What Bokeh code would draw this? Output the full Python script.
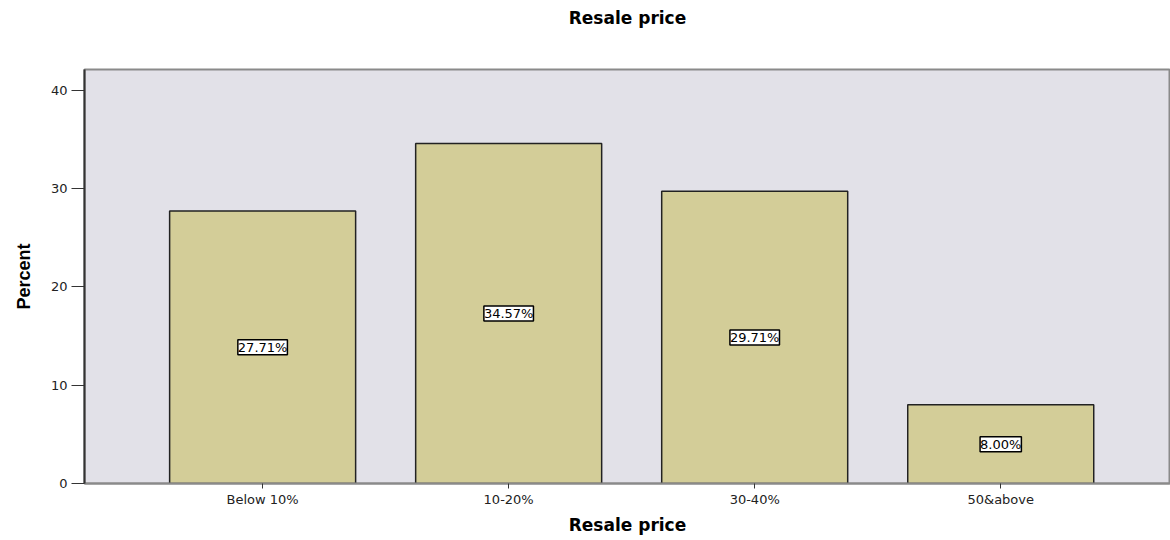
from bokeh.plotting import figure
from bokeh.models import ColumnDataSource, LabelSet, LinearAxis, Range1d, FixedTicker
from bokeh.core.properties import value
from bokeh.embed import file_html
from bokeh.resources import INLINE

title_text = "Resale price"
x_label = "Resale price"
y_label = "Percent"
categories = ["Below 10%", "10-20%", "30-40%", "50&above"]
percents = [27.71, 34.57, 29.71, 8.00]
y_ticks = [0, 10, 20, 30, 40]

xs = list(range(len(categories)))
labels = ["%.2f%%" % v for v in percents]
src = ColumnDataSource(dict(x=xs, top=percents, mid=[v / 2 for v in percents], lab=labels))

p = figure(width=1170, height=540, output_backend="svg", toolbar_location=None,
           x_range=Range1d(-0.724, 3.69), y_range=Range1d(0, 42.1),
           min_border_left=84, min_border_right=0, min_border_top=69, min_border_bottom=57)

p.background_fill_color = "#E2E1E8"
p.border_fill_color = "white"
p.outline_line_color = "#8a8a8a"
p.outline_line_width = 2
p.grid.visible = False

p.vbar(x="x", top="top", width=0.756, source=src, fill_color="#D3CD98",
       line_color="#222222", line_width=1.5)

lbl = LabelSet(x="x", y="mid", text="lab", source=src, text_align="center",
               text_baseline="middle", text_font=value("DejaVu Sans"), text_font_size="13px",
               text_color="black", background_fill_color="white",
               border_line_color="black", border_line_width=1.5)
p.add_layout(lbl)

xa = p.below[0]
ya = p.left[0]

# chart title drawn as the label of a bare axis above the frame
top_axis = LinearAxis(ticker=FixedTicker(ticks=[]), axis_label=title_text,
                      axis_line_color=None, major_tick_line_color=None,
                      minor_tick_line_color=None,
                      axis_label_text_font="DejaVu Sans", axis_label_text_font_size="17px",
                      axis_label_text_font_style="bold", axis_label_text_color="black",
                      axis_label_standoff=42)
p.add_layout(top_axis, "above")

xa.ticker = FixedTicker(ticks=xs)
xa.major_label_overrides = {i: c for i, c in enumerate(categories)}
xa.axis_label = x_label
ya.ticker = FixedTicker(ticks=y_ticks)
ya.axis_label = y_label

for ax in (xa, ya):
    ax.axis_label_text_font = "DejaVu Sans"
    ax.axis_label_text_font_style = "bold"
    ax.axis_label_text_font_size = "17px"
    ax.axis_label_text_color = "black"
    ax.major_label_text_font = "DejaVu Sans"
    ax.major_label_text_font_size = "13px"
    ax.major_label_text_color = "#222222"
    ax.minor_tick_line_color = None
    ax.major_tick_in = 0
    ax.axis_line_color = "#333333"
    ax.major_tick_line_color = "#333333"

ya.axis_label_text_font = "Liberation Sans"
ya.axis_label_text_font_size = "18px"
ya.major_tick_out = 13
ya.major_label_standoff = 4
ya.axis_line_width = 2
ya.axis_label_standoff = 14
xa.major_tick_out = 5
xa.axis_line_color = "#8a8a8a"
xa.axis_line_width = 2
xa.major_label_standoff = 3
xa.axis_label_standoff = 5

open("out.html", "w").write(file_html(p, INLINE))
